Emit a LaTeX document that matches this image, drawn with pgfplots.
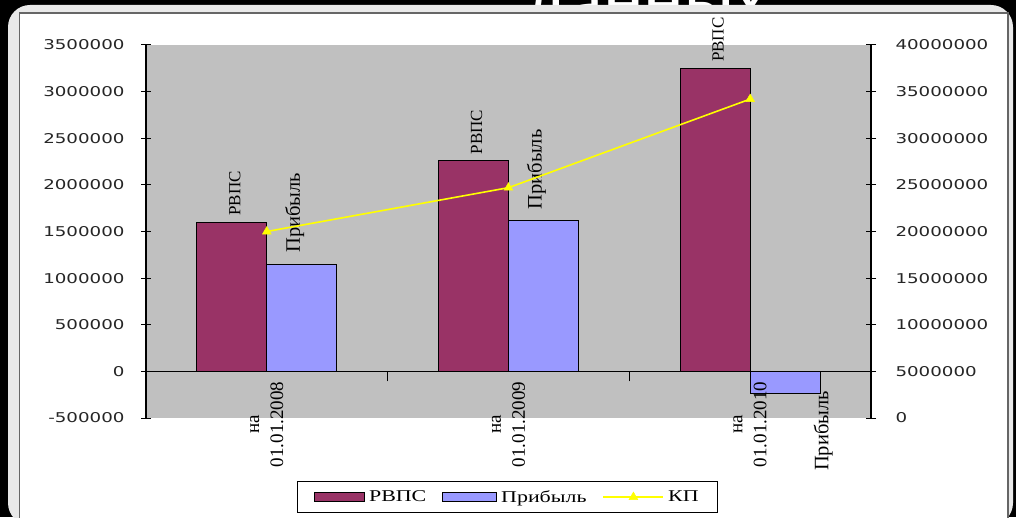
\documentclass[border=0pt]{standalone}
\usepackage{pgfplots}
\usepackage{pgfplotstable}
\pgfplotsset{compat=1.18}
\usepackage{graphicx}
\usepackage{fontspec}
\setmainfont{Liberation Serif}
\newfontfamily\tickfont[FakeStretch=1.35]{DejaVu Sans}
\newfontfamily\legfont[FakeStretch=1.33]{Liberation Serif}
\newfontfamily\lblfont{Liberation Serif}
\newfontfamily\titlefont{Carlito}

\definecolor{rvps}{HTML}{993366}
\definecolor{prib}{HTML}{9999FF}
\definecolor{kp}{HTML}{FFFF00}
\definecolor{plotgray}{HTML}{C0C0C0}
\definecolor{panelgray}{HTML}{E9E9E9}

\pgfplotsset{
  kp legend/.style={legend image code/.code={%
    \draw[mark repeat=2,mark phase=2,##1] plot coordinates {(0pt,0pt) (30pt,0pt) (60pt,0pt)};}},
}

\pgfplotstableread{
x y
0 1600000
1 2260000
2 3250000
}\rvpsdata
\pgfplotstableread{
x y dx dy
0 1150000 -7 8
1 1615000 -7 8
2 -240000 38 6
}\pribdata
\pgfplotstableread{
x y
0 20000000
1 24700000
2 34200000
}\kpdata

\begin{document}
\begin{tikzpicture}[x=1pt,y=1pt]
\path[use as bounding box, fill=black] (0,0) rectangle (1016,517);
\node[white, font=\titlefont\fontsize{76}{80}\selectfont, anchor=base] at (646,492) {данных};
\fill[panelgray, rounded corners=22pt] (8,-8) rectangle (1013,512);
\fill[white] (19.5,-20) rectangle (1008,504);
\draw[black!60, line width=1.3pt] (19.5,-20) -- (19.5,504) -- (1008,504) -- (1008,-20);

\begin{axis}[
  at={(146pt,99pt)}, anchor=south west, scale only axis,
  width=725pt, height=373pt,
  xmin=-0.5, xmax=2.5, ymin=-500000, ymax=3500000,
  clip=false, axis on top,
  axis background/.style={fill=plotgray},
  axis y line=left, axis x line=middle,
  axis line style={black, line width=1.1pt, -},
  x axis line style={-}, y axis line style={-},
  tick align=center, major tick length=10pt,
  tick style={black, line width=1pt},
  ytick={-500000,0,500000,1000000,1500000,2000000,2500000,3000000,3500000},
  scaled y ticks=false,
  yticklabel style={font=\tickfont\fontsize{13.5}{15}\selectfont, text=black!85,
    xshift=-13pt,
    /pgf/number format/fixed, /pgf/number format/1000 sep={},
    /pgf/number format/assume math mode=true},
  xtick={0.5,1.5}, xticklabels={},
  extra x ticks={0,1,2},
  extra x tick labels={{на\\01.01.2008},{на\\01.01.2009},{на\\01.01.2010}},
  extra x tick style={grid=none, major tick length=0pt, tick style={draw=none}},
  xticklabel style={rotate=90, anchor=east, align=center, inner sep=0pt,
    font=\lblfont\fontsize{19}{24}\selectfont},
  xticklabel shift=10pt,
  ybar=0pt, bar width=70pt,
]
\addplot[ybar, fill=rvps, draw=black, line width=0.8pt,
  nodes near coords={\rotatebox{90}{РВПС}},
  every node near coord/.append style={xshift=3pt, yshift=3pt,
    inner sep=3pt, font=\lblfont\fontsize{17}{18}\selectfont, text=black}]
  table[x=x,y=y]{\rvpsdata};
\addplot[ybar, fill=prib, draw=black, line width=0.8pt,
  visualization depends on={\thisrow{dx}\as\mydx},
  visualization depends on={\thisrow{dy}\as\mydy},
  nodes near coords={\rotatebox{90}{Прибыль}},
  every node near coord/.append style={xshift=\mydx, yshift=\mydy,
    inner sep=3pt, font=\lblfont\fontsize{20.5}{22}\selectfont, text=black}]
  table[x=x,y=y]{\pribdata};
\end{axis}

\begin{axis}[
  at={(146pt,99pt)}, anchor=south west, scale only axis,
  width=725pt, height=373pt,
  xmin=-0.5, xmax=2.5, ymin=0, ymax=40000000,
  axis x line=none, axis y line=right,
  axis line style={black, line width=1.1pt, -},
  tick align=center, major tick length=10pt,
  tick style={black, line width=1pt},
  ytick={0,5000000,10000000,15000000,20000000,25000000,30000000,35000000,40000000},
  scaled y ticks=false,
  yticklabel style={font=\tickfont\fontsize{13.5}{15}\selectfont, text=black!85,
    xshift=16pt,
    /pgf/number format/fixed, /pgf/number format/1000 sep={},
    /pgf/number format/assume math mode=true},
  legend columns=3,
  legend style={at={(0.4986,0)}, anchor=north, yshift=-63pt,
    draw=black, line width=0.8pt, fill=white,
    font=\legfont\fontsize{16.5}{18}\selectfont,
    inner xsep=17pt, inner ysep=7pt,
    /tikz/every odd column/.append style={column sep=2pt},
    /tikz/every even column/.append style={column sep=14pt}},
]
\addlegendimage{legend image code/.code={\draw[fill=rvps,draw=black,line width=0.8pt] (0pt,-4.5pt) rectangle (50pt,4.5pt);}}
\addlegendentry{РВПС}
\addlegendimage{legend image code/.code={\draw[fill=prib,draw=black,line width=0.8pt] (0pt,-4.5pt) rectangle (54pt,4.5pt);}}
\addlegendentry{Прибыль}
\addplot[kp, line width=1.6pt, mark=triangle*, mark size=5pt,
  mark options={fill=kp, draw=kp, line width=0.5pt}, kp legend]
  table[x=x,y=y]{\kpdata};
\addlegendentry{КП}
\end{axis}
\end{tikzpicture}
\end{document}
